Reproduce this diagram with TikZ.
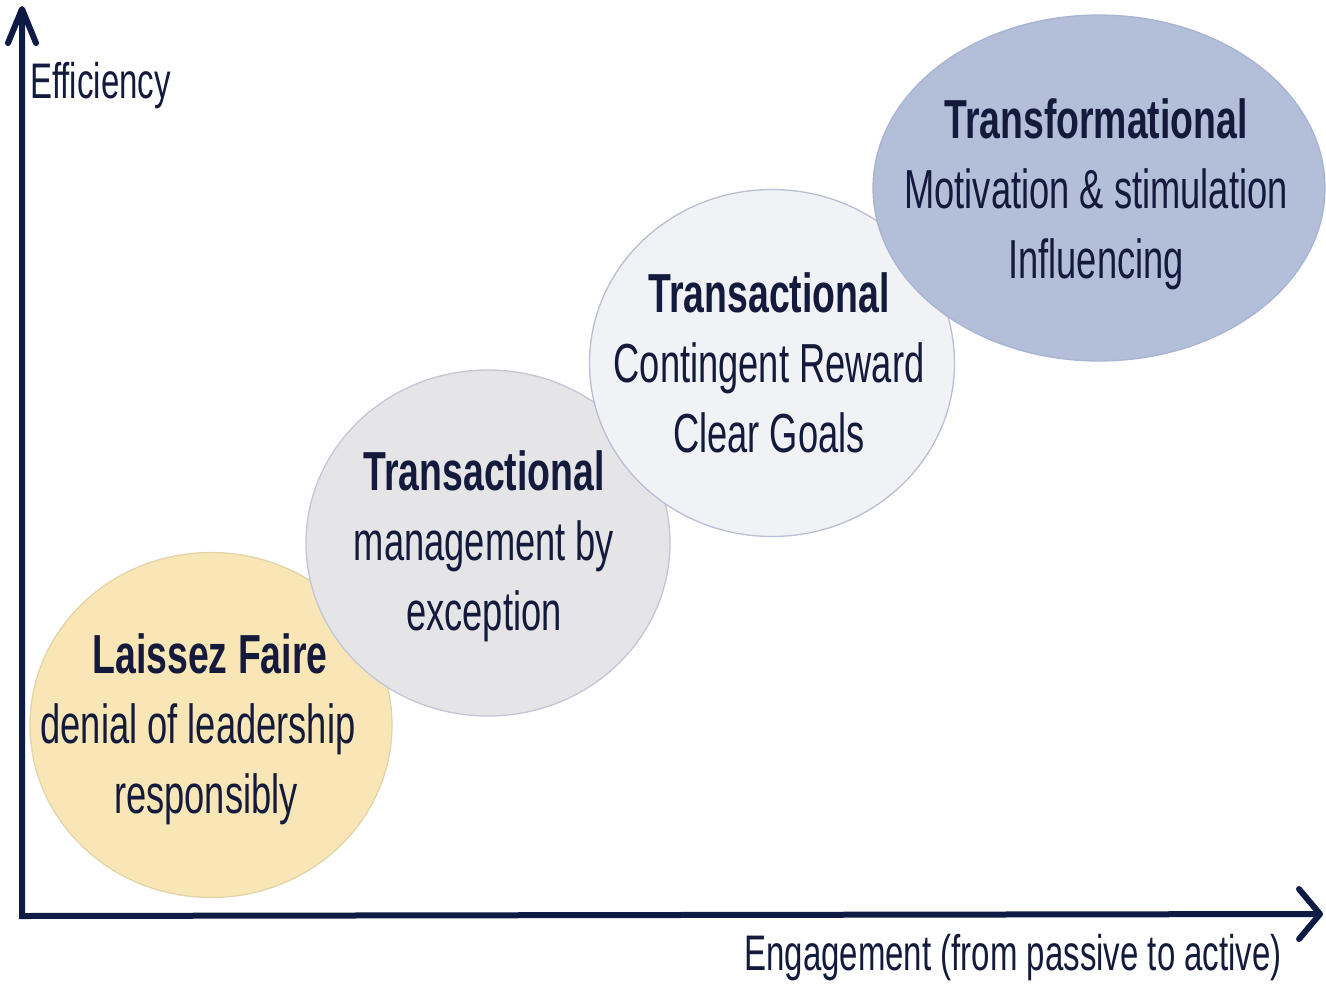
\documentclass[tikz,border=0pt]{standalone}
\usepackage{fontspec}
\setmainfont{Liberation Sans}[FakeStretch=0.66, BoldFeatures={FakeStretch=0.68}]
\usetikzlibrary{arrows.meta,shapes.geometric}
\definecolor{ink}{HTML}{141A3C}
\definecolor{axisc}{HTML}{0D1B45}
\definecolor{lfFill}{HTML}{F8E6B6}
\definecolor{lfLine}{HTML}{E2D4A8}
\definecolor{grFill}{HTML}{E5E5E8}
\definecolor{grLine}{HTML}{C3C6D4}
\definecolor{ltFill}{HTML}{F1F2F6}
\definecolor{ltLine}{HTML}{B9BED2}
\definecolor{blFill}{HTML}{B3BFD9}
\definecolor{blLine}{HTML}{A8B4D0}
\tikzset{
  bubble/.style={ellipse, draw, line width=1.3pt, inner sep=0pt},
  bubtext/.style={align=center, inner sep=0pt, text=ink,
    font=\fontsize{55}{70}\selectfont},
  axlabel/.style={inner sep=0pt, text=ink, font=\fontsize{50}{60}\selectfont},
  axis/.style={draw=axisc, line width=6pt, line join=miter}
}
\begin{document}
\begin{tikzpicture}[x=1pt,y=-1pt]
\useasboundingbox (0,0) rectangle (1326,986);
% bubbles, drawn bottom to top
\node[bubble, draw=lfLine, fill=lfFill, minimum width=362pt, minimum height=345pt] (lf) at (211,725) {};
\node[bubble, draw=grLine, fill=grFill, minimum width=364pt, minimum height=346pt] (mbe) at (488,543) {};
\node[bubble, draw=ltLine, fill=ltFill, minimum width=365pt, minimum height=347pt] (cr) at (772,363) {};
\node[bubble, draw=blLine, fill=blFill, minimum width=452pt, minimum height=346pt] (tf) at (1099,188) {};
% texts
\node[bubtext] (lfT) at (198,729) {\hspace*{24pt}\textbf{Laissez Faire}\\denial of leadership\\\hspace*{16pt}responsibly};
\node[bubtext] (mbeT) at (484,546) {\textbf{Transactional}\\management by\\exception};
\node[bubtext] (crT) at (769,363) {\textbf{Transactional}\\Contingent Reward\\Clear Goals};
\node[bubtext] (tfT) at (1096,194) {\textbf{Transformational}\\Motivation \& stimulation\\Influencing};
% axes
\coordinate (O) at (22,916);
\coordinate (ytop) at (22,6);
\coordinate (xend) at (1323,914);
\draw[axis, {Straight Barb[length=34pt,width=28pt,round]}-{Straight Barb[length=21pt,width=50pt,round]}] (ytop) -- (O) -- (xend);
\node[axlabel, anchor=base west] (eff) at (30,98) {Efficiency};
\node[axlabel, anchor=base east] (eng) at (1282,970) {Engagement (from passive to active)};
\end{tikzpicture}
\end{document}
